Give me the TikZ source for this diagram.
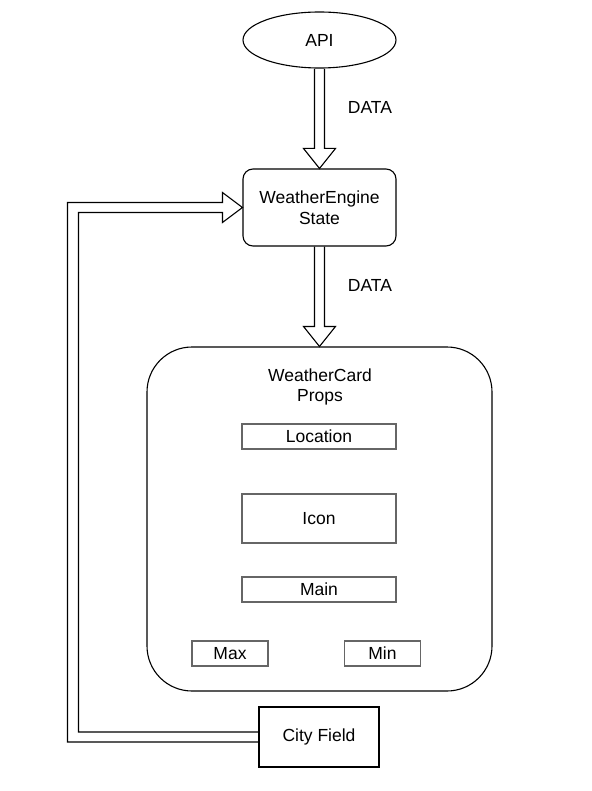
\documentclass[tikz,border=0pt]{standalone}
\usepackage{fontspec}
\setmainfont{Liberation Sans}
\usetikzlibrary{shapes.geometric,calc}

\begin{document}
\begin{tikzpicture}[x=1pt, y=-1pt, line width=1.1pt,
    txt/.style={font=\fontsize{17.5}{20.5}\selectfont, align=center, inner sep=0pt},
    propbox/.style={txt, draw=black!60, minimum width=154pt, minimum height=25pt},
    minibox/.style={propbox, minimum width=76pt},
    fatarrow/.style={draw=black, line join=miter}]
% cadre de la page
\useasboundingbox (0,0) rectangle (591,791);

% source et etat
\node[txt, draw, ellipse, minimum width=153pt, minimum height=56pt] (api) at (319.5,40) {API};
\node[txt, draw, rounded corners=10pt, minimum width=153pt, minimum height=77pt] (eng) at (319.5,207.5) {WeatherEngine\\State};

% la carte et ses props
\node[draw, rounded corners=45pt, minimum width=345pt, minimum height=344pt] (card) at (319.5,519) {};
\node[txt] (cardtitle) at (320,387) {WeatherCard\\Props};
\node[propbox] (loc) at (319,436.5) {Location};
\node[propbox, minimum height=49pt] (icon) at (319,518.5) {Icon};
\node[propbox] (main) at (319,589.5) {Main};
\node[minibox] (max) at (230,653.5) {Max};
\node[minibox] (min) at (382.5,653.5) {Min};

% champ ville
\node[txt, draw, minimum width=120pt, minimum height=60pt] (city) at (319,737) {City Field};

% fleches DATA
\draw[fatarrow] ($(api.south)+(-5,0)$) -- ($(eng.north)+(-5,-20)$) -- ($(eng.north)+(-16,-20)$)
    -- (eng.north) -- ($(eng.north)+(16,-20)$) -- ($(eng.north)+(5,-20)$) -- ($(api.south)+(5,0)$);
\node[txt] (data1) at (370,107) {DATA};
\draw[fatarrow] ($(eng.south)+(-5,0)$) -- ($(card.north)+(-5,-20)$) -- ($(card.north)+(-16,-20)$)
    -- (card.north) -- ($(card.north)+(16,-20)$) -- ($(card.north)+(5,-20)$) -- ($(eng.south)+(5,0)$);
\node[txt] (data2) at (370,285) {DATA};

% retour City Field -> etat
\draw[fatarrow] ($(city.west)+(0,5)$) -- ($(city.west)+(-191,5)$) -- ($(eng.west)+(-175,-5)$)
    -- ($(eng.west)+(-20,-5)$) -- ($(eng.west)+(-20,-15)$) -- (eng.west) -- ($(eng.west)+(-20,15)$)
    -- ($(eng.west)+(-20,5)$) -- ($(eng.west)+(-164,5)$) -- ($(city.west)+(-180,-5)$) -- ($(city.west)+(0,-5)$);
\end{tikzpicture}
\end{document}
